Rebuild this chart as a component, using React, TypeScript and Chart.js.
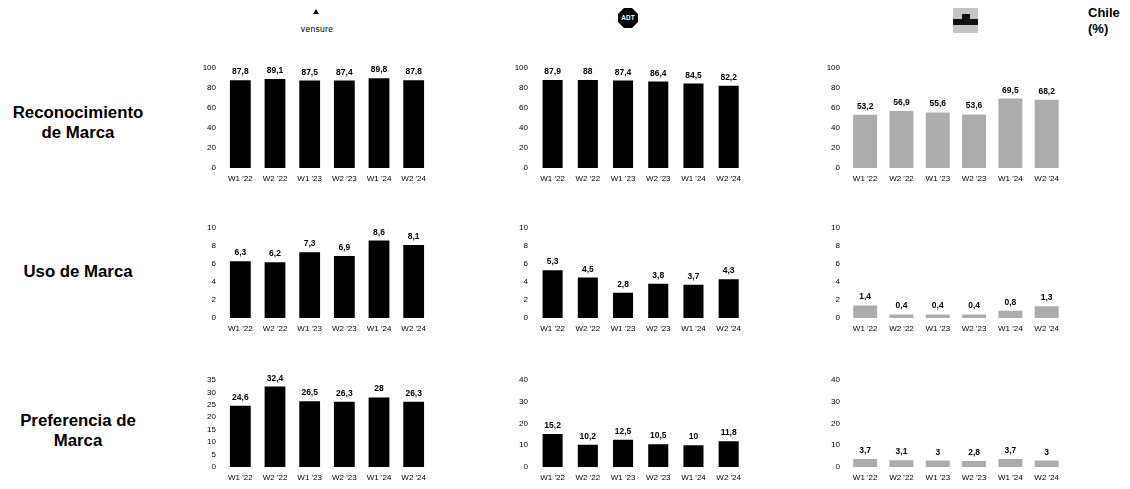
import React, { useEffect, useRef } from "react";
import { Chart, registerables } from "chart.js";

Chart.register(...registerables);

// ---- Data ----
const weeks = ["W1 '22", "W2 '22", "W1 '23", "W2 '23", "W1 '24", "W2 '24"];

const vensureReconocimiento = [87.8, 89.1, 87.5, 87.4, 89.8, 87.8];
const adtReconocimiento = [87.9, 88, 87.4, 86.4, 84.5, 82.2];
const chileReconocimiento = [53.2, 56.9, 55.6, 53.6, 69.5, 68.2];

const vensureUso = [6.3, 6.2, 7.3, 6.9, 8.6, 8.1];
const adtUso = [5.3, 4.5, 2.8, 3.8, 3.7, 4.3];
const chileUso = [1.4, 0.4, 0.4, 0.4, 0.8, 1.3];

const vensurePreferencia = [24.6, 32.4, 26.5, 26.3, 28, 26.3];
const adtPreferencia = [15.2, 10.2, 12.5, 10.5, 10, 11.8];
const chilePreferencia = [3.7, 3.1, 3, 2.8, 3.7, 3];

const rowLabels = [["Reconocimiento", "de Marca"], ["Uso de Marca"], ["Preferencia de", "Marca"]];
const headerNote = ["Chile", "(%)"];

// axis maxima and steps per cell [row][col]
const axisMax = [
  [100, 100, 100],
  [10, 10, 10],
  [35, 40, 40],
];
const axisStep = [
  [20, 20, 20],
  [2, 2, 2],
  [5, 10, 10],
];

const seriesGrid = [
  [vensureReconocimiento, adtReconocimiento, chileReconocimiento],
  [vensureUso, adtUso, chileUso],
  [vensurePreferencia, adtPreferencia, chilePreferencia],
];

// ---- Layout / style ----
const FONT = '"Liberation Sans", Arial, Helvetica, sans-serif';
const colLayout = [
  { left: 223, right: 432, barPct: 0.6, color: "#000000" },
  { left: 535, right: 747, barPct: 0.57, color: "#000000" },
  { left: 847, right: 1065, barPct: 0.66, color: "#acacac" },
];
const rowLayout = [
  { top: 68, bottom: 168 },
  { top: 228, bottom: 318 },
  { top: 380, bottom: 467 },
];
const Y_W = 40;
const PAD_TOP = 24;
const X_H = 24;

const fmt = (v: number) => String(v).replace(".", ",");

const valueLabels = {
  id: "valueLabels",
  afterDatasetsDraw(chart: any) {
    const ctx = chart.ctx;
    const meta = chart.getDatasetMeta(0);
    const ds = chart.data.datasets[0];
    ctx.save();
    ctx.font = `bold 8.5px ${FONT}`;
    ctx.fillStyle = "#000";
    ctx.textAlign = "center";
    ctx.textBaseline = "bottom";
    meta.data.forEach((bar: any, i: number) => {
      ctx.fillText(fmt(ds.data[i] as number), bar.x, bar.y - 4);
    });
    ctx.restore();
  },
};

function Cell({ row, col }: { row: number; col: number }) {
  const ref = useRef<HTMLCanvasElement>(null);
  const c = colLayout[col];
  const r = rowLayout[row];
  const width = c.right - c.left + Y_W;
  const height = r.bottom - r.top + PAD_TOP + X_H;

  useEffect(() => {
    if (!ref.current) return;
    const chart = new Chart(ref.current, {
      type: "bar",
      data: {
        labels: weeks,
        datasets: [
          {
            data: seriesGrid[row][col],
            backgroundColor: c.color,
            barPercentage: c.barPct,
            categoryPercentage: 1,
          },
        ],
      },
      options: {
        responsive: false,
        animation: false,
        layout: { padding: { top: PAD_TOP, left: 0, right: 0, bottom: 0 } },
        plugins: { legend: { display: false }, tooltip: { enabled: false } },
        scales: {
          x: {
            grid: { display: false, drawTicks: false },
            border: { display: false },
            ticks: {
              font: { family: FONT, size: 8 },
              color: "#000",
              padding: 6,
              maxRotation: 0,
              autoSkip: false,
            },
            afterFit: (s: any) => {
              s.height = X_H;
            },
          },
          y: {
            min: 0,
            max: axisMax[row][col],
            ticks: {
              stepSize: axisStep[row][col],
              autoSkip: false,
              font: { family: FONT, size: 8 },
              color: "#000",
              padding: 7,
            },
            grid: { display: false, drawTicks: false },
            border: { display: false },
            afterFit: (s: any) => {
              s.width = Y_W;
            },
          },
        },
      },
      plugins: [valueLabels],
    } as any);
    return () => chart.destroy();
  }, [row, col]);

  return (
    <div
      style={{
        position: "absolute",
        left: c.left - Y_W,
        top: r.top - PAD_TOP,
        width,
        height,
      }}
    >
      <canvas ref={ref} width={width} height={height} />
    </div>
  );
}

export default function App() {
  const rowTops = [102.7, 261.7, 411.2];
  return (
    <div
      style={{
        position: "absolute",
        left: 0,
        top: 0,
        width: 1130,
        height: 489,
        background: "#fff",
        overflow: "hidden",
        fontFamily: FONT,
        color: "#000",
      }}
    >
      {/* Row labels */}
      {rowLabels.map((lines, i) => (
        <div
          key={i}
          style={{
            position: "absolute",
            left: 0,
            width: 156,
            top: rowTops[i],
            textAlign: "center",
            fontWeight: "bold",
            fontSize: 16.8,
            lineHeight: "20px",
          }}
        >
          {lines.map((l, j) => (
            <div key={j}>{l}</div>
          ))}
        </div>
      ))}

      {/* Vensure logo */}
      <div
        style={{
          position: "absolute",
          left: 313,
          top: 9,
          width: 0,
          height: 0,
          borderLeft: "3px solid transparent",
          borderRight: "3px solid transparent",
          borderBottom: "5px solid #000",
        }}
      />
      <div
        style={{
          position: "absolute",
          left: 286,
          width: 62,
          top: 24,
          textAlign: "center",
          fontSize: 8.5,
          lineHeight: "10px",
          letterSpacing: 0.3,
        }}
      >
        vensure
      </div>

      {/* ADT logo */}
      <div
        style={{
          position: "absolute",
          left: 618,
          top: 8,
          width: 20,
          height: 20,
          background: "#000",
          clipPath: "polygon(30% 0,70% 0,100% 30%,100% 70%,70% 100%,30% 100%,0 70%,0 30%)",
          color: "#fff",
          fontSize: 6.5,
          fontWeight: "bold",
          lineHeight: "20px",
          textAlign: "center",
        }}
      >
        ADT
      </div>

      {/* Chile competitor logo */}
      <div style={{ position: "absolute", left: 953, top: 8, width: 25, height: 25, background: "#c4c4c4" }} />
      <div style={{ position: "absolute", left: 953, top: 19, width: 25, height: 6, background: "#111" }} />
      <div style={{ position: "absolute", left: 962, top: 14, width: 8, height: 5, background: "#111" }} />

      {/* Chile (%) */}
      <div
        style={{
          position: "absolute",
          left: 1088,
          top: 5,
          fontSize: 13,
          fontWeight: "bold",
          lineHeight: "16px",
        }}
      >
        {headerNote.map((l, j) => (
          <div key={j}>{l}</div>
        ))}
      </div>

      {[0, 1, 2].map((row) =>
        [0, 1, 2].map((col) => <Cell key={`${row}-${col}`} row={row} col={col} />)
      )}
    </div>
  );
}
